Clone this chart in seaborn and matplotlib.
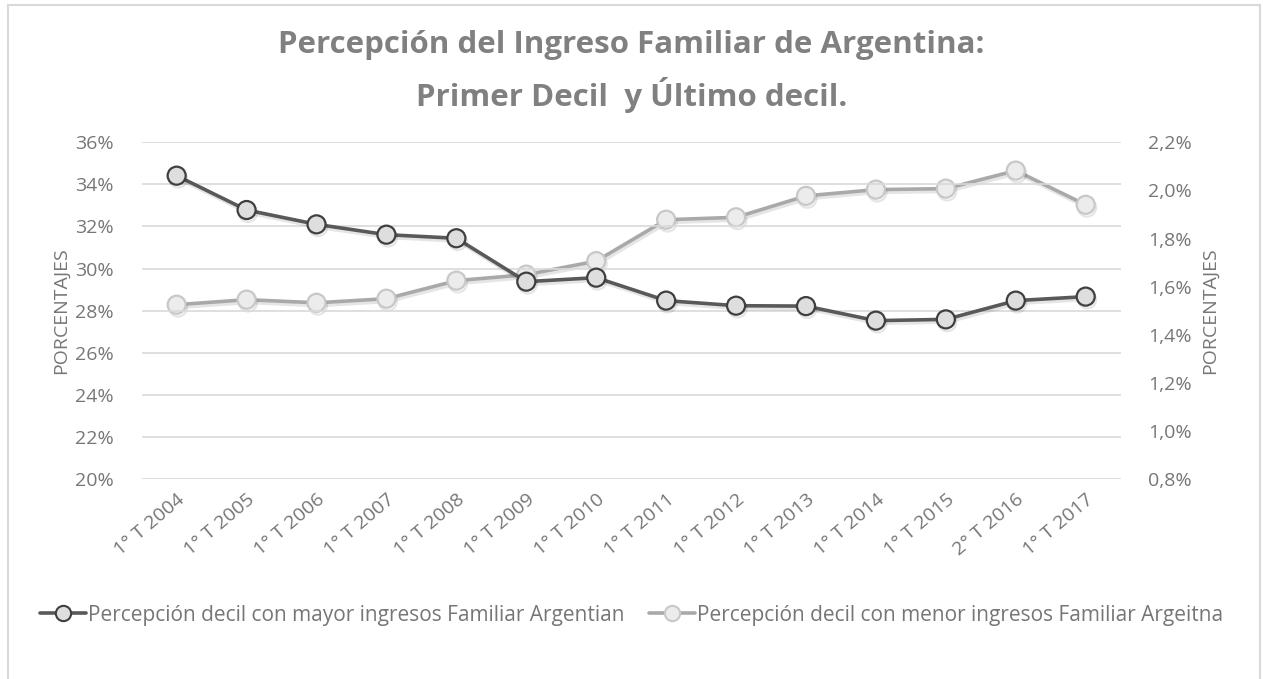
import numpy as np
import pandas as pd
import matplotlib
matplotlib.use("Agg")
import matplotlib.pyplot as plt
import matplotlib.patheffects as pe
from matplotlib.lines import Line2D
from matplotlib.patches import Rectangle
from matplotlib.ticker import FuncFormatter, MultipleLocator
import seaborn as sns

# datos
periodos = ["1° T 2004", "1° T 2005", "1° T 2006", "1° T 2007", "1° T 2008",
            "1° T 2009", "1° T 2010", "1° T 2011", "1° T 2012", "1° T 2013",
            "1° T 2014", "1° T 2015", "2° T 2016", "1° T 2017"]
decil_mayor = [34.41, 32.78, 32.10, 31.61, 31.44, 29.38, 29.57, 28.48, 28.24,
               28.22, 27.53, 27.59, 28.48, 28.67]
decil_menor = [1.525, 1.546, 1.533, 1.550, 1.625, 1.650, 1.706, 1.878, 1.888,
               1.977, 2.003, 2.007, 2.082, 1.940]
nombre_mayor = "Percepción decil con mayor ingresos Familiar Argentian"
nombre_menor = "Percepción decil con menor ingresos Familiar Argeitna"

df = pd.DataFrame({"periodo": periodos, "mayor": decil_mayor, "menor": decil_menor})

sns.set_style("white")
plt.rcParams["font.family"] = ["Open Sans", "DejaVu Sans"]

gris_txt = "#767676"
oscuro = "#595959"
claro = "#a9a9a9"

fig = plt.figure(figsize=(12.63, 6.79), dpi=100)
ax = fig.add_axes([0.1122, 0.2941, 0.7751, 0.4965])
ax2 = ax.twinx()

sombra = [pe.SimpleLineShadow(offset=(1, -2), shadow_color="#000000", alpha=0.1), pe.Normal()]

sns.lineplot(data=df, x="periodo", y="mayor", ax=ax, sort=False, color=oscuro,
             linewidth=2.6, marker="o", markersize=13, markerfacecolor="#dedede",
             markeredgecolor="#3f3f3f", markeredgewidth=1.6, zorder=4,
             path_effects=sombra)
sns.lineplot(data=df, x="periodo", y="menor", ax=ax2, sort=False, color=claro,
             linewidth=2.6, marker="o", markersize=13, markerfacecolor="#ececec",
             markeredgecolor="#c8c8c8", markeredgewidth=1.6, zorder=4,
             path_effects=sombra)

ax.set_ylim(20, 36)
ax.yaxis.set_major_locator(MultipleLocator(2))
ax.yaxis.set_major_formatter(FuncFormatter(lambda v, p: f"{v:.0f}%"))
ax2.set_ylim(0.8, 2.2)
ax2.yaxis.set_major_locator(MultipleLocator(0.2))
ax2.yaxis.set_major_formatter(FuncFormatter(lambda v, p: f"{v:.1f}%".replace(".", ",")))
ax.set_xlim(-0.5, len(periodos) - 0.5)

ax.grid(axis="y", color="#d9d9d9", linewidth=1.2)
ax.grid(axis="x", visible=False)
ax.set_axisbelow(True)
ax2.grid(False)
ax.set_zorder(ax2.get_zorder() + 1)
ax.patch.set_visible(False)

for a in (ax, ax2):
    for s in a.spines.values():
        s.set_visible(False)
    a.tick_params(length=0, colors=gris_txt, labelsize=14)
    a.set_xlabel("")

ax.tick_params(axis="y", pad=20)
ax2.tick_params(axis="y", pad=20)
ax.tick_params(axis="x", pad=8)
plt.setp(ax.get_xticklabels(), rotation=40, ha="right", rotation_mode="anchor")

ax.set_ylabel("PORCENTAJES", color=gris_txt, fontsize=14, labelpad=4)
ax2.set_ylabel("PORCENTAJES", color=gris_txt, fontsize=14, rotation=90, labelpad=6)

fig.text(0.5, 0.933, "Percepción del Ingreso Familiar de Argentina:", ha="center",
         va="center", fontsize=22.5, fontweight="bold", color="#808080")
fig.text(0.5, 0.86, "Primer Decil  y Último decil.", ha="center", va="center",
         fontsize=22.5, fontweight="bold", color="#808080")

manijas = [
    Line2D([], [], color=oscuro, linewidth=2.6, marker="o", markersize=11,
           markerfacecolor="#dedede", markeredgecolor="#3f3f3f", markeredgewidth=1.5),
    Line2D([], [], color=claro, linewidth=2.6, marker="o", markersize=11,
           markerfacecolor="#ececec", markeredgecolor="#c8c8c8", markeredgewidth=1.5),
]
fig.legend(manijas, [nombre_mayor, nombre_menor], loc="center", ncol=2,
           bbox_to_anchor=(0.5, 0.094), frameon=False, fontsize=15,
           labelcolor=gris_txt, handlelength=2.2, handletextpad=0.1,
           columnspacing=1.2)

fig.patches.append(Rectangle((0.006, -0.01), 0.992, 1.003, transform=fig.transFigure,
                             fill=False, edgecolor="#d9d9d9", linewidth=1.5))

fig.savefig("out.png", dpi=100, facecolor="white")
